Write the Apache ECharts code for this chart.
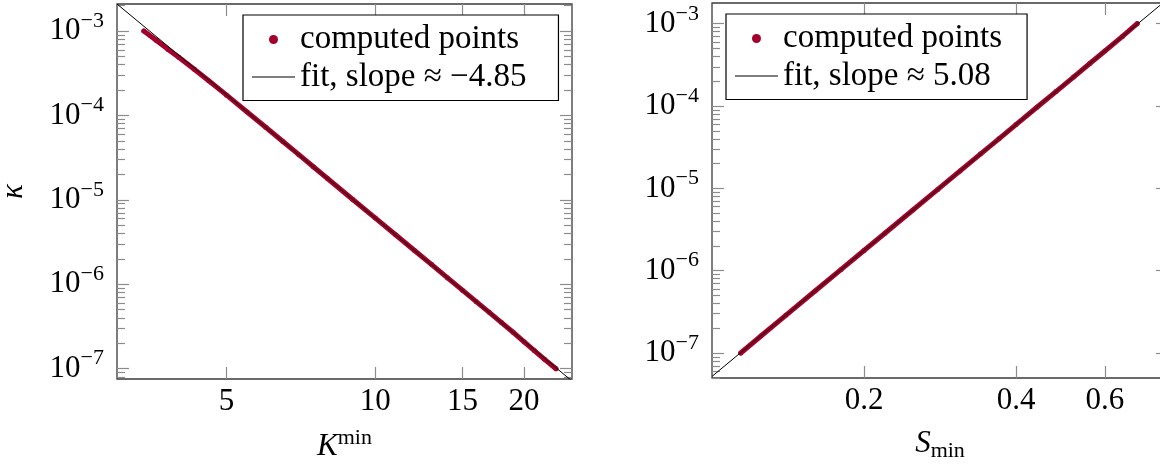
<!DOCTYPE html>
<html>
<head>
<meta charset="utf-8">
<script src="https://cdn.jsdelivr.net/npm/echarts@6/dist/echarts.min.js"></script>
<style>
  html, body { margin: 0; padding: 0; background: #fff; }
  #chart { width: 1160px; height: 466px; }
</style>
</head>
<body>
<div id="chart"></div>
<script>
// ---- data: κ against K^min ----
const kMin = [3.4, 3.6, 3.8, 4.0, 4.3, 4.6, 5.0, 5.5, 6.0, 6.5, 7.0, 7.5, 8.0, 9.0,
  10, 11, 12, 13, 14, 15, 16, 17, 18, 19, 20, 21, 22, 23.2];
const kappaVsK = [1.0e-3, 7.8e-4, 6.1e-4, 4.9e-4, 3.52e-4, 2.58e-4, 1.74e-4, 1.10e-4,
  7.24e-5, 4.91e-5, 3.43e-5, 2.45e-5, 1.79e-5, 1.01e-5, 6.08e-6, 3.83e-6, 2.51e-6,
  1.71e-6, 1.19e-6, 8.51e-7, 6.22e-7, 4.65e-7, 3.52e-7, 2.70e-7, 2.08e-7, 1.63e-7,
  1.29e-7, 1.0e-7];

// ---- data: κ against S_min ----
const sMin = [0.114, 0.125, 0.14, 0.16, 0.18, 0.2, 0.22, 0.25, 0.28, 0.31, 0.34, 0.37,
  0.4, 0.44, 0.48, 0.52, 0.56, 0.6, 0.65, 0.695];
const kappaVsS = [1.0e-7, 1.61e-7, 2.87e-7, 5.66e-7, 1.03e-6, 1.76e-6, 2.85e-6, 5.46e-6,
  9.72e-6, 1.63e-5, 2.61e-5, 4.0e-5, 5.96e-5, 9.66e-5, 1.5e-4, 2.25e-4, 3.29e-4,
  4.67e-4, 7.01e-4, 1.0e-3];

// power-law fits  κ ≈ coef · x^slope
const fitK = { slope: -4.85, coef: 0.4305 };
const fitS = { slope: 5.08, coef: 6.25e-3 };

// axis ranges and ticks
const kRange = [3, 25];
const kappaRangeK = [7.55e-8, 2.09e-3];
const sRange = [0.1, 0.8];
const kappaRangeS = [4.97e-8, 1.786e-3];
const kTicks = [5, 10, 15, 20];
const sTicks = [0.2, 0.4, 0.6];
const kappaExponents = [-7, -6, -5, -4, -3];

// ---- styling ----
const FONT = '"Liberation Serif", "DejaVu Serif", serif';
const RED = '#a3002c';
const TICK = '#8c8c8c';
const FRAME = '#3a3a3a';
const LINE_ICON = 'path://M0,0H43V1H0Z';

const lg = Math.log10;
const fmtSlope = s => (s < 0 ? '\u2212' : '') + Math.abs(s).toFixed(2);
const fitNameK = 'fit, slope \u2248 ' + fmtSlope(fitK.slope);
const fitNameS = 'fit, slope \u2248 ' + fmtSlope(fitS.slope);

function minorLogTicks(range) {
  const out = [];
  for (let n = Math.floor(lg(range[0])); n <= Math.ceil(lg(range[1])); n++) {
    for (let m = 2; m <= 9; m++) {
      const v = m * Math.pow(10, n);
      if (v >= range[0] && v <= range[1]) out.push(lg(v));
    }
  }
  return out;
}

function fitLine(fit, range) {
  return range.map(x => [x, fit.coef * Math.pow(x, fit.slope)]);
}

const labelText = { fontFamily: FONT, color: '#000', fontSize: 31 };

function tickAxis(gi, range, position, values, len, label) {
  const ax = {
    type: 'value', gridIndex: gi, position: position,
    min: lg(range[0]), max: lg(range[1]),
    axisLine: { show: false }, splitLine: { show: false },
    axisTick: { show: true, inside: true, length: len, customValues: values,
      lineStyle: { color: TICK, width: 1.2 } },
    axisLabel: { show: false },
    silent: true
  };
  if (label) Object.assign(ax.axisLabel, label, { show: true, customValues: values });
  return ax;
}

function xLabel(ticks) {
  return Object.assign({}, labelText, {
    margin: 7,
    formatter: v => String(ticks.find(t => Math.abs(lg(t) - v) < 1e-9))
  });
}

const yLabel = Object.assign({}, labelText, {
  margin: 13,
  formatter: v => '{b|10}{s|\u2212' + Math.abs(Math.round(v)) + '}',
  rich: {
    b: { fontFamily: FONT, fontSize: 31, color: '#000' },
    s: { fontFamily: FONT, fontSize: 22, color: '#000', padding: [0, 0, 20, 0] }
  }
});

function panelAxes(gi, xr, yr, xTicks, xName, xRich, yName) {
  const xs = [
    { type: 'log', gridIndex: gi, min: xr[0], max: xr[1], show: false, splitLine: { show: false } },
    Object.assign(tickAxis(gi, xr, 'bottom', xTicks.map(lg), 12, xLabel(xTicks)), {
      name: xName, nameLocation: 'middle', nameGap: 48,
      nameTextStyle: { fontFamily: FONT, color: '#000', fontSize: 31, rich: xRich }
    }),
    tickAxis(gi, xr, 'top', xTicks.map(lg), 12, null)
  ];
  const majors = kappaExponents.slice();
  const minors = minorLogTicks(yr);
  const leftMajor = tickAxis(gi, yr, 'left', majors, 12, yLabel);
  if (yName) {
    Object.assign(leftMajor, {
      name: yName, nameLocation: 'middle', nameGap: 88, nameRotate: 90,
      nameTextStyle: { fontFamily: FONT, color: '#000', fontSize: 31,
        rich: { k: { fontFamily: FONT, fontSize: 31, fontStyle: 'italic', color: '#000' } } }
    });
  }
  const ys = [
    { type: 'log', gridIndex: gi, min: yr[0], max: yr[1], show: false, splitLine: { show: false } },
    leftMajor,
    tickAxis(gi, yr, 'left', minors, 8, null),
    tickAxis(gi, yr, 'right', majors, 12, null),
    tickAxis(gi, yr, 'right', minors, 8, null)
  ];
  return { xs, ys };
}

const pK = panelAxes(0, kRange, kappaRangeK, kTicks, '{i|K}{sup|min}', {
  i: { fontFamily: FONT, fontSize: 31, fontStyle: 'italic', color: '#000' },
  sup: { fontFamily: FONT, fontSize: 22, color: '#000', padding: [0, 0, 18, 0] }
}, '{k|\u03ba}');
const pS = panelAxes(1, sRange, kappaRangeS, sTicks, '{i|S}{sub|min}', {
  i: { fontFamily: FONT, fontSize: 31, fontStyle: 'italic', color: '#000' },
  sub: { fontFamily: FONT, fontSize: 22, color: '#000', padding: [14, 0, 0, 0] }
}, null);

const xAxes = pK.xs.concat(pS.xs);
const yAxes = pK.ys.concat(pS.ys);
// index of the log (data) axis of each panel
const X0 = [0, 3], Y0 = [0, 5];

function pointsSeries(gi, xs, ys) {
  return {
    name: 'computed points', type: 'line',
    xAxisIndex: X0[gi], yAxisIndex: Y0[gi],
    data: xs.map((x, i) => [x, ys[i]]),
    color: RED, symbol: 'circle', symbolSize: 5, showSymbol: true,
    itemStyle: { color: RED },
    lineStyle: { color: RED, width: 5, cap: 'round', join: 'round' },
    z: 2, silent: true
  };
}
function fitSeries(gi, name, fit, range) {
  return {
    name: name, type: 'line',
    xAxisIndex: X0[gi], yAxisIndex: Y0[gi],
    data: fitLine(fit, range),
    color: '#000', symbol: 'none', clip: true,
    lineStyle: { color: '#000', width: 1 },
    z: 3, silent: true
  };
}

function legendBox(left, top, names, pad) {
  return {
    left: left, top: top, orient: 'vertical',
    data: [{ name: names[0], icon: 'circle' }, { name: names[1], icon: LINE_ICON }],
    itemWidth: 43, itemHeight: 9, itemGap: 4.5, itemTextGap: 8,
    padding: pad, borderColor: '#000', borderWidth: 1.2, backgroundColor: '#fff',
    textStyle: { fontFamily: FONT, fontSize: 33, color: '#000' },
    selectedMode: false, z: 10
  };
}

const option = {
  animation: false,
  backgroundColor: '#fff',
  grid: [
    { left: 117, top: 4, width: 455, height: 375, show: true, borderColor: FRAME,
      borderWidth: 1.3, backgroundColor: 'transparent', outerBoundsMode: 'none', containLabel: false },
    { left: 712, top: 3, width: 456, height: 375, show: true, borderColor: FRAME,
      borderWidth: 1.3, backgroundColor: 'transparent', outerBoundsMode: 'none', containLabel: false }
  ],
  xAxis: xAxes,
  yAxis: yAxes,
  legend: [
    legendBox(243, 15, ['computed points', fitNameK], [8, 32, 7, 9]),
    legendBox(726, 14, ['computed points', fitNameS], [8, 25, 7, 9])
  ],
  series: [
    pointsSeries(0, kMin, kappaVsK),
    fitSeries(0, fitNameK, fitK, kRange),
    pointsSeries(1, sMin, kappaVsS),
    fitSeries(1, fitNameS, fitS, sRange)
  ]
};

const chart = echarts.init(document.getElementById('chart'), null, { renderer: 'canvas' });
chart.setOption(option);
</script>
</body>
</html>
